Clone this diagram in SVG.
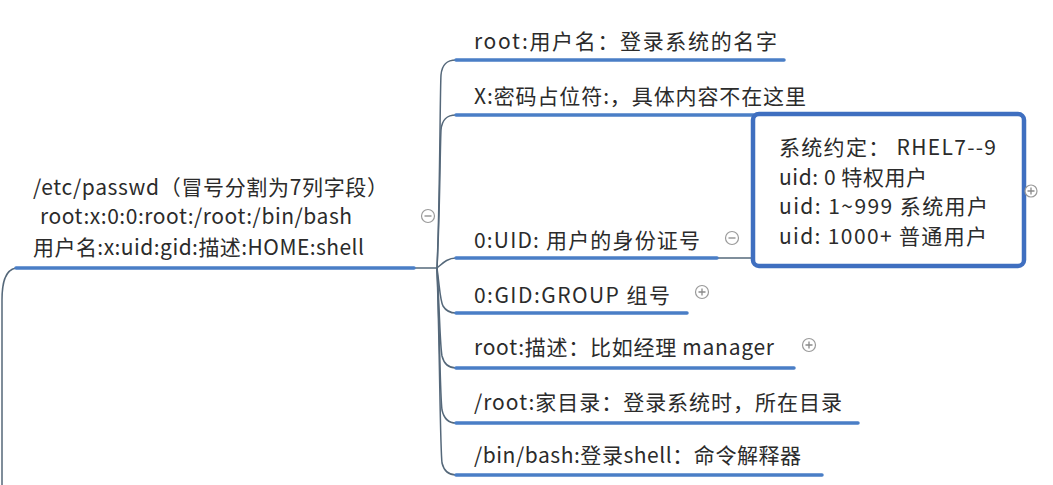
<svg xmlns="http://www.w3.org/2000/svg" width="1053" height="485" viewBox="0 0 1053 485">
<style>
.t{font-family:"Microsoft YaHei","Noto Sans CJK SC","Liberation Sans",sans-serif;font-size:21px;fill:#2b2b2b}
.u{stroke:#4a7ec6;stroke-width:3.5;fill:none;stroke-linecap:round}
.c{stroke:#55687a;stroke-width:1.5;fill:none}
.k{fill:#fff;stroke:#9a9a9a;stroke-width:1.2}
.s{stroke:#8a8a8a;stroke-width:1.3}
</style>
<rect width="1053" height="485" fill="#fff"/>
<g id="connectors">
<path class="c" d="M16,268 C4,270 2,285 2,300 L2,485"/>
<path class="c" d="M415,268 L437,268"/>
<path class="c" d="M437,268 C440,200 440,90 441,75 C442,64 447,60 456,60"/>
<path class="c" d="M437,268 C440,210 440,150 441,130 C442,119 447,115 456,115"/>
<path class="c" d="M437,268 C442,264 447,258 456,258"/>
<path class="c" d="M437,268 C440,290 440,300 443,306 C446,311 450,313 456,313"/>
<path class="c" d="M437,268 C440,320 440,345 442,356 C444,364 448,368 456,368"/>
<path class="c" d="M437,268 C440,340 440,395 442,410 C444,419 448,423 456,423"/>
<path class="c" d="M437,268 C440,360 440,445 442,463 C444,471 448,475 456,475"/>
<path class="c" d="M718,258 L752,258"/>
</g>
<g id="root">
<text class="t" x="33" y="195" textLength="355">/etc/passwd（冒号分割为7列字段）</text>
<text class="t" x="40" y="224" textLength="312">root:x:0:0:root:/root:/bin/bash</text>
<text class="t" x="33" y="255" textLength="331">用户名:x:uid:gid:描述:HOME:shell</text>
<path class="u" d="M16,268 L414,268"/>
<circle class="k" cx="428" cy="216" r="6.5"/>
<path class="s" d="M424.5,216 L431.5,216"/>
</g>
<g id="n1">
<text class="t" x="474" y="49" textLength="303">root:用户名：登录系统的名字</text>
<path class="u" d="M456,60 L784,60"/>
</g>
<g id="n2">
<text class="t" x="474" y="104" textLength="332">X:密码占位符:，具体内容不在这里</text>
<path class="u" d="M456,115 L820,115"/>
</g>
<g id="n3">
<text class="t" x="474" y="248" textLength="226">0:UID: 用户的身份证号</text>
<path class="u" d="M456,258 L717,258"/>
<circle class="k" cx="732" cy="238" r="6.5"/>
<path class="s" d="M728.5,238 L735.5,238"/>
</g>
<g id="n4">
<text class="t" x="474" y="303" textLength="196">0:GID:GROUP 组号</text>
<path class="u" d="M456,313 L687,313"/>
<circle class="k" cx="702" cy="292" r="6.5"/>
<path class="s" d="M698.5,292 L705.5,292 M702,288.5 L702,295.5"/>
</g>
<g id="n5">
<text class="t" x="474" y="355" textLength="300">root:描述：比如经理 manager</text>
<path class="u" d="M456,368 L794,368"/>
<circle class="k" cx="809" cy="345" r="6.5"/>
<path class="s" d="M805.5,345 L812.5,345 M809,341.5 L809,348.5"/>
</g>
<g id="n6">
<text class="t" x="474" y="410" textLength="368">/root:家目录：登录系统时，所在目录</text>
<path class="u" d="M456,423 L858,423"/>
</g>
<g id="n7">
<text class="t" x="474" y="463" textLength="327">/bin/bash:登录shell：命令解释器</text>
<path class="u" d="M456,475 L822,475"/>
</g>
<g id="uidbox">
<rect x="753" y="114" width="271" height="152" rx="6" fill="#fff" stroke="#3f6fc0" stroke-width="4.5"/>
<text class="t" x="779" y="155" textLength="217">系统约定： RHEL7--9</text>
<text class="t" x="779" y="185" textLength="148">uid: 0 特权用户</text>
<text class="t" x="779" y="214" textLength="209">uid: 1~999 系统用户</text>
<text class="t" x="779" y="244" textLength="208">uid: 1000+ 普通用户</text>
<circle class="k" cx="1031" cy="191" r="6"/>
<path class="s" d="M1027.5,191 L1034.5,191 M1031,187.5 L1031,194.5"/>
</g>
</svg>
